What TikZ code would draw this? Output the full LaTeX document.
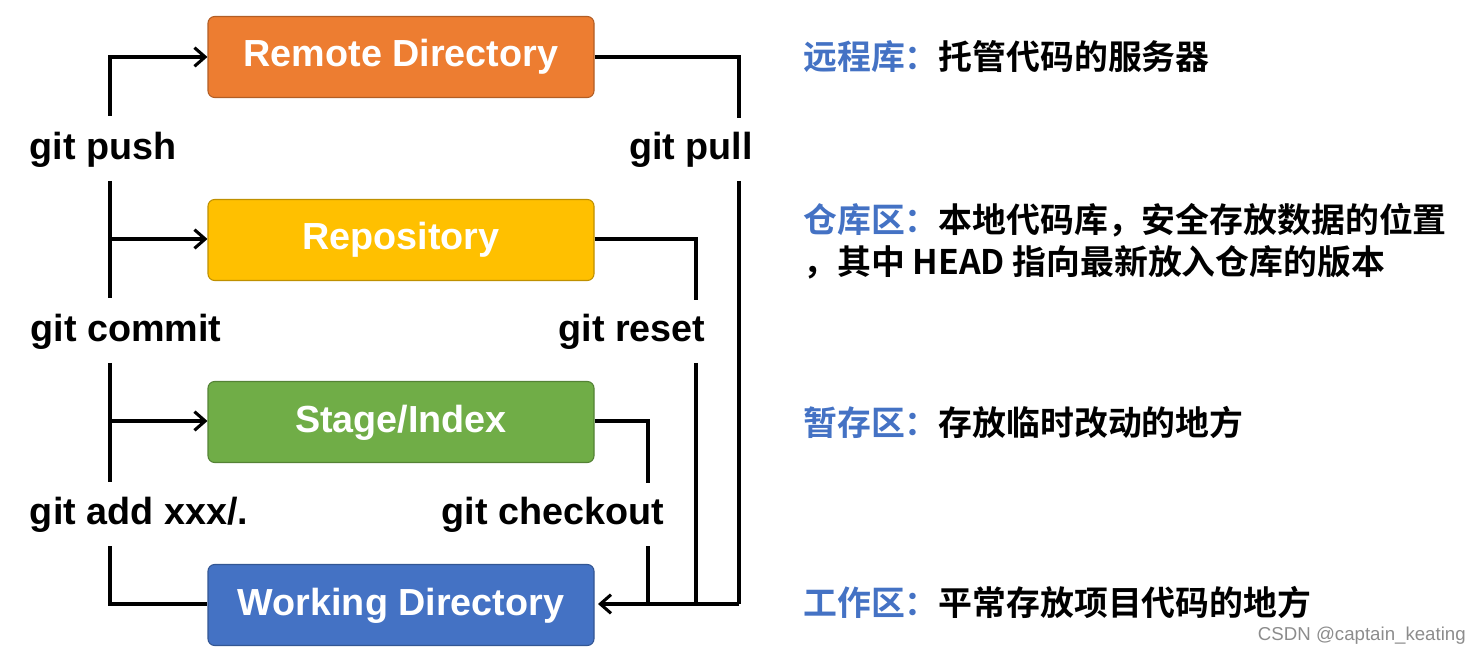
\documentclass[tikz,border=0pt]{standalone}
\usepackage{fontspec}
\setmainfont{Liberation Sans}
\newfontfamily\cjk{Noto Sans CJK SC}[BoldFont={* Bold}]
\usetikzlibrary{arrows.meta}
\definecolor{cOrange}{HTML}{ED7D31}
\definecolor{cYellow}{HTML}{FFC000}
\definecolor{cGreen}{HTML}{70AD47}
\definecolor{cBlue}{HTML}{4472C4}
\definecolor{cTitle}{HTML}{4472C4}
\begin{document}
\begin{tikzpicture}[x=0.75pt,y=-0.75pt,
  box/.style={draw=#1!75!black,fill=#1,rounded corners=5pt,minimum width=289.5pt,minimum height=60.75pt,inner sep=0pt,text=white,font=\bfseries\fontsize{28.3}{32}\selectfont,line width=0.8pt,text depth=0pt,text height=15pt},
  lab/.style={font=\bfseries\fontsize{28.3}{32}\selectfont,inner sep=0pt},
  ln/.style={line width=2.3pt},
  ar/.style={ln,-{Straight Barb[length=8pt,width=14pt,line width=2.3pt]}},
  zh/.style={anchor=west,inner sep=0pt,font=\cjk\bfseries\fontsize{25.4}{30}\selectfont}]
\useasboundingbox (0,0) rectangle (1480,655);
\node[box=cOrange] (remote) at (401,57) {Remote Directory};
\node[box=cYellow] (repo) at (401,240) {Repository};
\node[box=cGreen] (stage) at (401,422) {Stage/Index};
\node[box=cBlue] (work) at (401,605) {Working Directory};
\node[lab] (push) at (103,150) {git push};
\node[lab] (commit) at (126,332) {git commit};
\node[lab] (add) at (139,515) {git add xxx/.};
\node[lab] (pull) at (691,150) {git pull};
\node[lab] (reset) at (632,332) {git reset};
\node[lab] (checkout) at (553,515) {git checkout};
\coordinate (a1) at (110,116); \coordinate (a2) at (110,57);
\draw[ar] (a1) -- (a2) -- (remote.west);
\coordinate (b1) at (110,181); \coordinate (b2) at (110,298); \coordinate (b3) at (110,239);
\draw[ln] (b1) -- (b2);
\draw[ar] (b3) -- (b3 -| repo.west);
\coordinate (c1) at (110,363); \coordinate (c2) at (110,482); \coordinate (c3) at (110,421);
\draw[ln] (c1) -- (c2);
\draw[ar] (c3) -- (c3 -| stage.west);
\coordinate (d1) at (110,546); \coordinate (d2) at (110,604);
\draw[ln] (d1) -- (d2) -- (d2 -| work.west);
\coordinate (p1) at (739,57); \coordinate (p2) at (739,118); \coordinate (p3) at (739,181); \coordinate (p4) at (739,604);
\draw[ln] (remote.east |- p1) -- (p1) -- (p2);
\draw[ln] (p3) -- (p4);
\coordinate (r1) at (696,239); \coordinate (r2) at (696,300); \coordinate (r3) at (696,363); \coordinate (r4) at (696,604);
\draw[ln] (repo.east |- r1) -- (r1) -- (r2);
\draw[ln] (r3) -- (r4);
\coordinate (k1) at (648,421); \coordinate (k2) at (648,483); \coordinate (k3) at (648,546); \coordinate (k4) at (648,604);
\draw[ln] (stage.east |- k1) -- (k1) -- (k2);
\draw[ln] (k3) -- (k4);
\draw[ar] (p4) -- (598,604);
\node[zh] (t1) at (803,57) {\textcolor{cTitle}{远程库：}托管代码的服务器};
\node[zh] (t2) at (803,220) {\textcolor{cTitle}{仓库区：}本地代码库，安全存放数据的位置};
\node[zh] (t3) at (803,262) {，其中 HEAD 指向最新放入仓库的版本};
\node[zh] (t4) at (803,422) {\textcolor{cTitle}{暂存区：}存放临时改动的地方};
\node[zh] (t5) at (803,602) {\textcolor{cTitle}{工作区：}平常存放项目代码的地方};
\node[anchor=east,inner sep=0pt,text=black!45,font=\fontsize{14}{16}\selectfont] (wm) at (1466,636) {CSDN @captain\_keating};
\end{tikzpicture}
\end{document}
